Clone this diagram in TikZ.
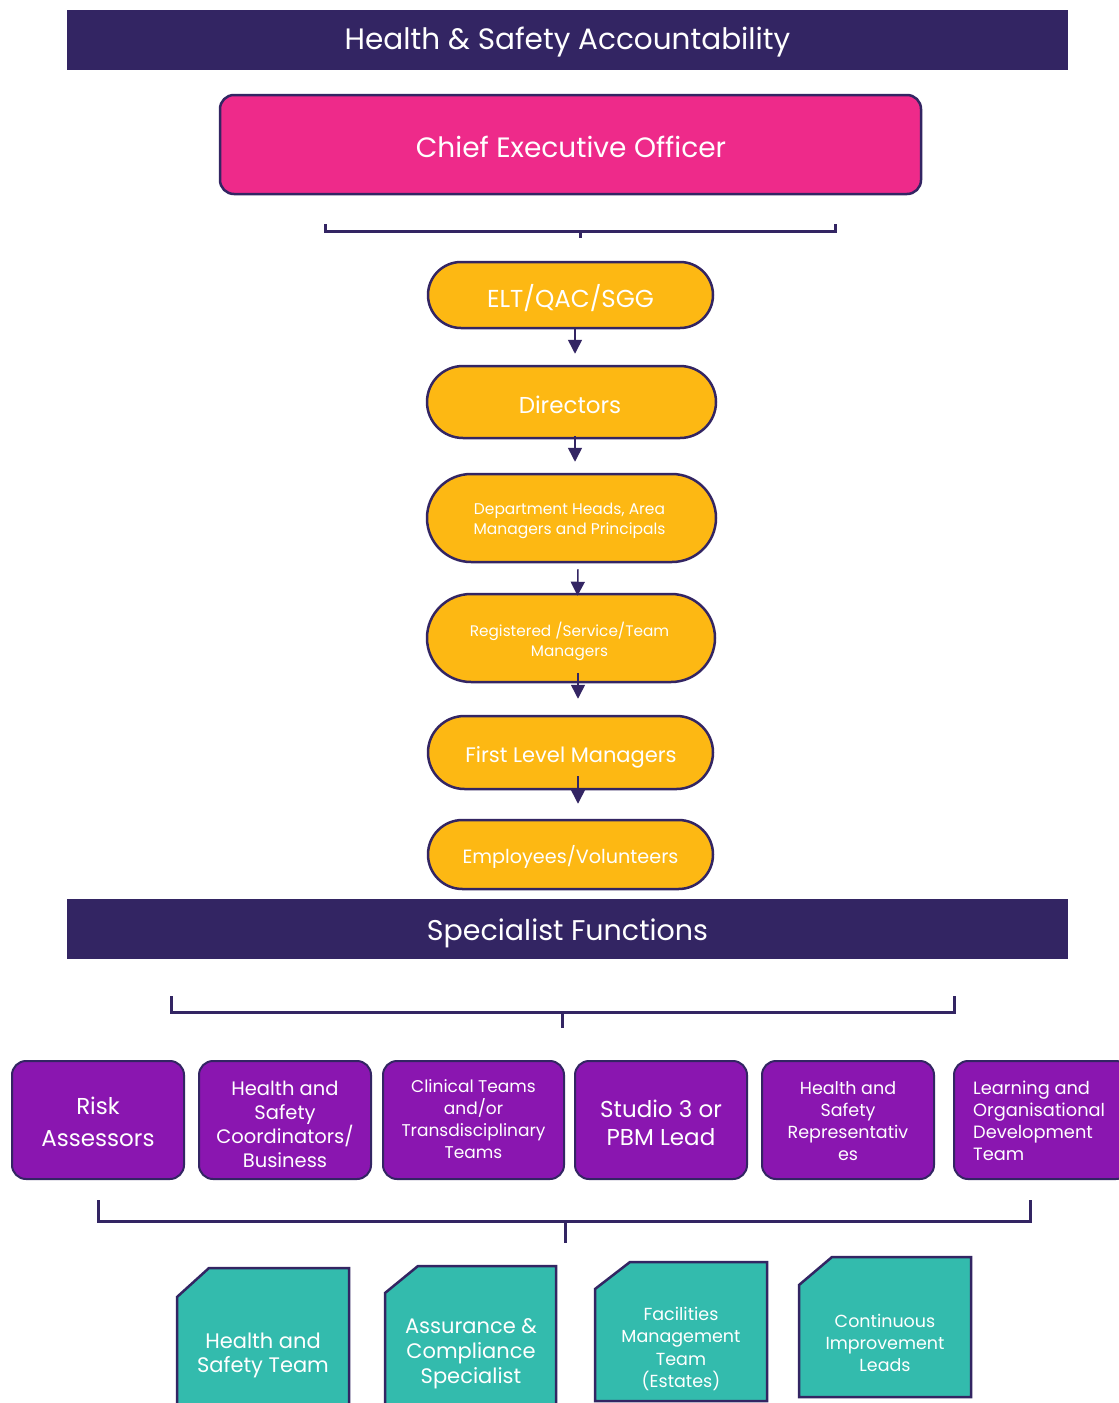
\documentclass[tikz,border=0pt]{standalone}
\usepackage{fontspec}
\setmainfont{Poppins}
\usetikzlibrary{shapes.misc,arrows.meta}
\definecolor{navy}{HTML}{332563}
\definecolor{pinkc}{HTML}{EE2A8A}
\definecolor{amber}{HTML}{FDB813}
\definecolor{purp}{HTML}{8A16B0}
\definecolor{teal}{HTML}{33BBAD}
\newcommand\myfs[2]{\fontsize{#1}{#2}\selectfont}
\tikzset{
  bar/.style={fill=navy, draw=none, minimum width=1001pt, minimum height=60pt, inner sep=0pt},
  pill/.style={shape=rounded rectangle, fill=amber, draw=navy, line width=2.5pt, inner sep=0pt},
  pbox/.style={rectangle, rounded corners=14pt, fill=purp, draw=navy, line width=2pt, minimum height=118pt, inner sep=0pt},
  tbox/.style={fill=teal, draw=navy, line width=2.5pt},
  ttext/.style={text=white, align=center, inner sep=0pt},
  brk/.style={draw=navy, line width=3pt},
  arr/.style={draw=navy, line width=1.5pt, -{Triangle[width=14pt,length=14pt]}}
}
\begin{document}
\begin{tikzpicture}[x=1pt,y=-1pt]
\useasboundingbox (0,0) rectangle (1119,1403);
\clip (0,0) rectangle (1119,1403);
\fill[white] (0,0) rectangle (1119,1403);

% Title bars
\node[bar] (t1) at (567.5,40) {};
\node[ttext, font=\myfs{29.5}{34}] (t1t) at (567.5,42) {Health \& Safety Accountability};
\node[bar] (t2) at (567.5,929) {};
\node[ttext, font=\myfs{28.5}{34}] (t2t) at (567.5,933) {Specialist Functions};

% CEO
\node[rectangle, rounded corners=14pt, fill=pinkc, draw=navy, line width=2.5pt,
  minimum width=701pt, minimum height=99pt, inner sep=0pt] (ceo) at (570.5,144.5) {};
\node[ttext, font=\myfs{28}{32}] (ceot) at (571,147) {Chief Executive Officer};

% Bracket 1
\coordinate (b1l) at (325,224);
\coordinate (b1r) at (835,224);
\coordinate (b1m) at (580,238);
\draw[brk] (b1l) -- (325,231) -- (835,231) -- (b1r);
\draw[brk] (580,231) -- (b1m);

% Pills
\node[pill, minimum width=285pt, minimum height=66pt] (elt) at (570.5,295) {};
\node[ttext, font=\myfs{24.5}{28}] (eltt) at (570.5,298) {ELT/QAC/SGG};
\node[pill, minimum width=289pt, minimum height=72pt] (dir) at (571.5,402) {};
\node[ttext, font=\myfs{23}{28}] (dirt) at (570,405) {Directors};
\node[pill, minimum width=289pt, minimum height=88pt] (dep) at (571.5,518) {};
\node[ttext, font=\myfs{15.5}{20}] (dept) at (569.5,521) {Department Heads, Area\\Managers and Principals};
\node[pill, minimum width=288pt, minimum height=88pt] (reg) at (571,638) {};
\node[ttext, font=\myfs{15.3}{20}] (regt) at (569.5,641) {Registered /Service/Team\\Managers};
\node[pill, minimum width=285pt, minimum height=73pt] (flm) at (570.5,752.5) {};
\node[ttext, font=\myfs{21}{24}] (flmt) at (571,757) {First Level Managers};
\node[pill, minimum width=285pt, minimum height=69pt] (emp) at (570.5,854.5) {};
\node[ttext, font=\myfs{19.2}{24}] (empt) at (570.5,857) {Employees/Volunteers};

% Arrows
\draw[arr] ([xshift=4.5pt]elt.south) -- ([xshift=3.5pt,yshift=11pt]dir.north);
\draw[arr] ([xshift=3.5pt,yshift=3pt]dir.south) -- ([xshift=3.5pt,yshift=11pt]dep.north);
\draw[arr] ([xshift=6.5pt,yshift=-6pt]dep.south) -- ([xshift=6.5pt,yshift=-3pt]reg.north);
\draw[arr] ([xshift=7pt,yshift=10pt]reg.south) -- ([xshift=7.5pt,yshift=16pt]flm.north);
\draw[arr] ([xshift=7.5pt,yshift=14pt]flm.south) -- ([xshift=7.5pt,yshift=15pt]emp.north);

% Bracket 2
\coordinate (b2l) at (171,996);
\coordinate (b2r) at (954,996);
\coordinate (b2m) at (562,1028);
\draw[brk] (b2l) -- (171,1012) -- (954,1012) -- (b2r);
\draw[brk] (562,1012) -- (b2m);

% Purple boxes
\node[pbox, minimum width=172pt] (risk) at (98,1120) {};
\node[ttext, font=\myfs{23}{32}] (riskt) at (98,1122) {Risk\\Assessors};
\node[pbox, minimum width=172pt] (hsc) at (285,1120) {};
\node[ttext, font=\myfs{19.5}{24}] (hsct) at (285,1124) {Health and\\Safety\\Coordinators/\\Business};
\node[pbox, minimum width=181pt] (clin) at (473.5,1120) {};
\node[ttext, font=\myfs{17}{22}] (clint) at (473.5,1119) {Clinical Teams\\and/or\\Transdisciplinary\\Teams};
\node[pbox, minimum width=172pt] (stu) at (661,1120) {};
\node[ttext, font=\myfs{23}{28}] (stut) at (661,1123) {Studio 3 or\\PBM Lead};
\node[pbox, minimum width=172pt] (rep) at (848,1120) {};
\node[ttext, font=\myfs{17.5}{22}] (rept) at (848,1121) {Health and\\Safety\\Representativ\\es};
\node[pbox, minimum width=176pt] (lod) at (1042,1120) {};
\node[text=white, align=left, anchor=west, inner sep=0pt, font=\myfs{17.8}{22}] (lodt) at (973,1121) {Learning and\\Organisational\\Development\\Team};

% Bracket 3
\coordinate (b3l) at (98,1200);
\coordinate (b3r) at (1030,1200);
\coordinate (b3m) at (565,1243);
\draw[brk] (b3l) -- (98,1221) -- (1030,1221) -- (b3r);
\draw[brk] (565,1221) -- (b3m);

% Teal boxes
\draw[tbox] (177,1297) -- (209,1268) -- (349,1268) -- (349,1420) -- (177,1420) -- cycle;
\node[ttext, font=\myfs{21}{24}] (hst) at (263,1355) {Health and\\Safety Team};
\draw[tbox] (385,1293) -- (418,1266) -- (556,1266) -- (556,1420) -- (385,1420) -- cycle;
\node[ttext, font=\myfs{21}{25}] (acs) at (471,1354) {Assurance \&\\Compliance\\Specialist};
\draw[tbox] (595,1289) -- (630,1262) -- (767,1262) -- (767,1401) -- (595,1401) -- cycle;
\node[ttext, font=\myfs{17.5}{22.5}] (fmt) at (681,1349) {Facilities\\Management\\Team\\(Estates)};
\draw[tbox] (799,1285) -- (832,1257) -- (971,1257) -- (971,1397) -- (799,1397) -- cycle;
\node[ttext, font=\myfs{17.5}{22}] (cil) at (885,1343) {Continuous\\Improvement\\Leads};
\end{tikzpicture}
\end{document}
